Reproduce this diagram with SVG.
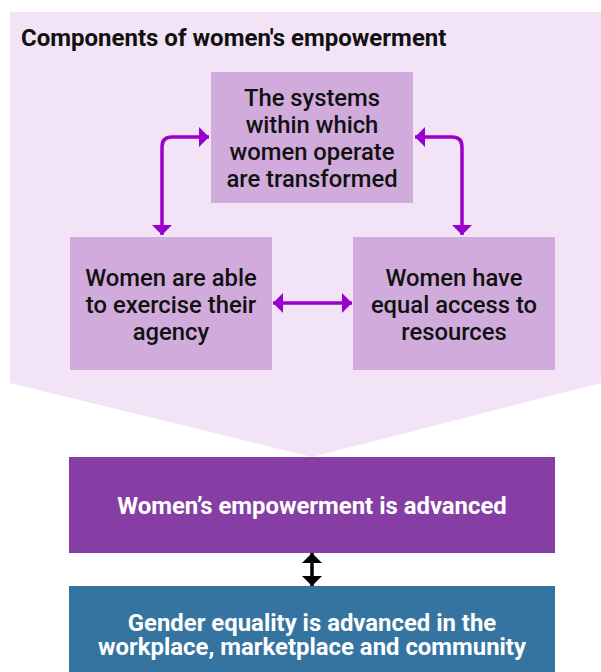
<svg xmlns="http://www.w3.org/2000/svg" width="601" height="672" viewBox="0 0 601 672">
  <defs>
    <style>
      .panel { fill: #f3e3f7; }
      .comp { fill: #d1abdc; }
      .ctext { font-family: Roboto, "Liberation Sans", sans-serif; font-size: 23.8px; font-weight: 500; fill: #111111; text-anchor: middle; }
      .title { font-family: Roboto, "Liberation Sans", sans-serif; font-size: 24px; font-weight: 700; fill: #111111; }
      .wtext { font-family: Roboto, "Liberation Sans", sans-serif; font-size: 23.9px; font-weight: 700; fill: #ffffff; text-anchor: middle; }
      .conn { fill: none; stroke: #9900cc; stroke-width: 3.5; }
      .connk { fill: none; stroke: #000000; stroke-width: 3.5; }
    </style>
    <marker id="ah" viewBox="0 0 10 20" refX="10" refY="10" markerWidth="10" markerHeight="20" markerUnits="userSpaceOnUse" orient="auto-start-reverse">
      <path d="M0,0 L10,10 L0,20 Z" fill="#9900cc"/>
    </marker>
    <marker id="ahk" viewBox="0 0 10 20" refX="10" refY="10" markerWidth="10" markerHeight="20" markerUnits="userSpaceOnUse" orient="auto-start-reverse">
      <path d="M0,0 L10,10 L0,20 Z" fill="#000000"/>
    </marker>
  </defs>

  <g id="panel">
    <polygon class="panel" points="10,12 601,12 601,383 312,457 10,383"/>
    <text class="title" x="21" y="46">Components of women's empowerment</text>
  </g>

  <g id="node-systems">
    <rect class="comp" x="211" y="72" width="202" height="131"/>
    <text class="ctext" x="312" y="106">The systems</text>
    <text class="ctext" x="312" y="133">within which</text>
    <text class="ctext" x="312" y="160">women operate</text>
    <text class="ctext" x="312" y="187">are transformed</text>
  </g>

  <g id="node-agency">
    <rect class="comp" x="70" y="237" width="202" height="133"/>
    <text class="ctext" x="171" y="286">Women are able</text>
    <text class="ctext" x="171" y="313">to exercise their</text>
    <text class="ctext" x="171" y="340">agency</text>
  </g>

  <g id="node-resources">
    <rect class="comp" x="353" y="237" width="202" height="133"/>
    <text class="ctext" x="454" y="286">Women have</text>
    <text class="ctext" x="454" y="313">equal access to</text>
    <text class="ctext" x="454" y="340">resources</text>
  </g>

  <g id="node-empowerment">
    <rect x="69" y="457" width="486" height="96" fill="#863ea4"/>
    <text class="wtext" x="312" y="514">Women’s empowerment is advanced</text>
  </g>

  <g id="node-equality">
    <rect x="69" y="586" width="486" height="86" fill="#3574a1"/>
    <text class="wtext" x="312" y="631">Gender equality is advanced in the</text>
    <text class="wtext" x="312" y="655">workplace, marketplace and community</text>
  </g>

  <g id="connectors">
    <path class="conn" d="M209,137 L172,137 Q162,137 162,147 L162,235" marker-start="url(#ah)" marker-end="url(#ah)"/>
    <path class="conn" d="M415,137 L452,137 Q462,137 462,147 L462,235" marker-start="url(#ah)" marker-end="url(#ah)"/>
    <path class="conn" d="M273,303 L352,303" marker-start="url(#ah)" marker-end="url(#ah)"/>
    <path class="connk" d="M312,553 L312,586" marker-start="url(#ahk)" marker-end="url(#ahk)"/>
  </g>
</svg>
